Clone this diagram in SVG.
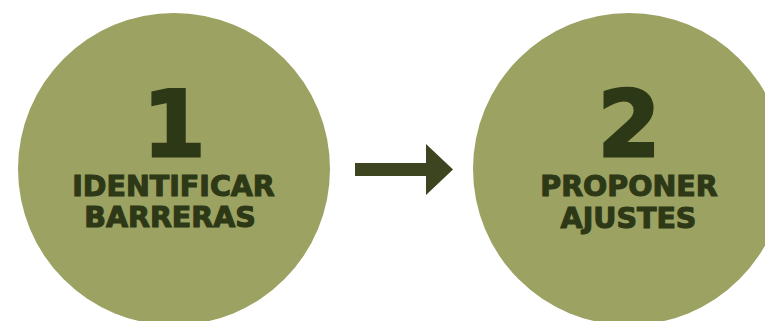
<svg xmlns="http://www.w3.org/2000/svg" width="765" height="321" viewBox="0 0 765 321">
<style>
.c{fill:#9ca262}
.num{font-family:"DejaVu Sans",sans-serif;font-weight:bold;font-size:90px;fill:#2d3816;stroke:#2d3816;stroke-width:3;text-anchor:middle}
.lbl{font-family:"DejaVu Sans",sans-serif;font-weight:bold;font-size:28.5px;fill:#2d3816;stroke:#2d3816;stroke-width:1.1;text-anchor:middle}
.arr{fill:#3c4520}
</style>
<rect width="765" height="321" fill="#ffffff"/>
<g id="step1">
<circle class="c" cx="174" cy="169" r="156"/>
<text class="num" x="174" y="156">1</text>
<text class="lbl" x="173.5" y="195.5">IDENTIFICAR</text>
<text class="lbl" x="170" y="226.5">BARRERAS</text>
</g>
<g id="step2">
<circle class="c" cx="629" cy="169" r="156"/>
<text class="num" x="629" y="156">2</text>
<text class="lbl" x="629" y="195.5">PROPONER</text>
<text class="lbl" x="628.5" y="227.5">AJUSTES</text>
</g>
<g id="connectors">
<path class="arr" d="M355 163H426V144L453 169.5L426 195V176H355Z"/>
</g>
</svg>
